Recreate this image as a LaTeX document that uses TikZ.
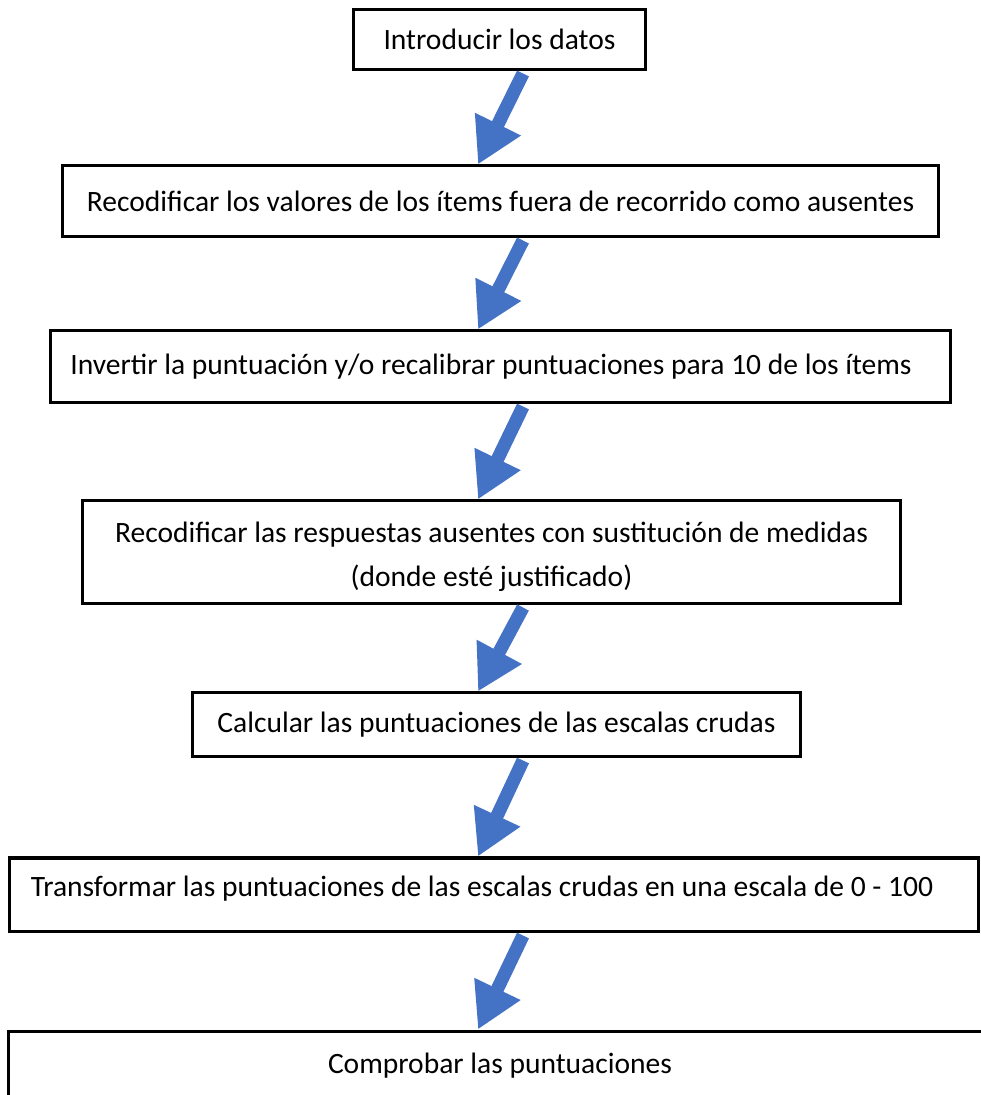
\documentclass[tikz,border=0pt]{standalone}
\usepackage{fontspec}
\setmainfont{Carlito}
\usetikzlibrary{arrows.meta}
\definecolor{flowblue}{RGB}{68,114,196}

\begin{document}
\begin{tikzpicture}[
    x=0.025cm, y=-0.025cm,
    box/.style={rectangle, draw=black, line width=0.075cm, fill=white, inner sep=0pt, font=\fontsize{21}{31.3}\selectfont},
    flow/.style={-{Triangle[length=1.125cm, width=1.2cm]}, line width=0.33cm, draw=flowblue}
]

    % Canvas
    \fill[white] (0,0) rectangle (980,1095);
    \useasboundingbox (0,0) rectangle (980,1095);

    % Steps
    \node[box, minimum width=7.3cm, minimum height=1.475cm] (datos) at (499.5,39.5) {Introducir los datos};
    \node[box, minimum width=21.875cm, minimum height=1.75cm] (fuera) at (500.5,201) {Recodificar los valores de los ítems fuera de recorrido como ausentes};
    \node[box, minimum width=22.475cm, minimum height=1.775cm] (invertir) at (500.5,366.5) {Invertir la puntuación y/o recalibrar puntuaciones para 10 de los ítems\hspace*{0.475cm}};
    \node[box, align=center, minimum width=20.425cm, minimum height=2.55cm, text height=1.85cm] (ausentes) at (491.5,552) {Recodificar las respuestas ausentes con sustitución de medidas\\(donde esté justificado)};
    \node[box, minimum width=15.175cm, minimum height=1.575cm] (crudas) at (496.5,724.5) {Calcular las puntuaciones de las escalas crudas};
    \node[box, minimum width=24.2cm, minimum height=1.825cm, text depth=0.4cm] (transformar) at (494,894.5) {Transformar las puntuaciones de las escalas crudas en una escala de 0 - 100\hspace*{0.6cm}};
    \node[box, minimum width=24.55cm, minimum height=1.75cm] (comprobar) at (500,1066) {Comprobar las puntuaciones};

    % Arrows
    \coordinate (tail) at (523,0);
    \coordinate (tip) at (478,0);
    \foreach \a/\b in {datos/fuera, fuera/invertir, invertir/ausentes, ausentes/crudas, crudas/transformar, transformar/comprobar}
        \draw[flow] ([yshift=-0.075cm]\a.south -| tail) -- (\b.north -| tip);

\end{tikzpicture}
\end{document}
